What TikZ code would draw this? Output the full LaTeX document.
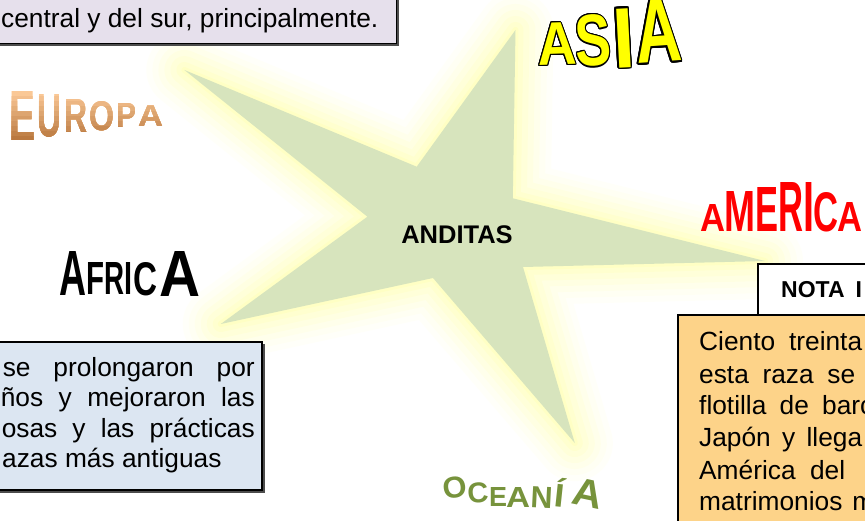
\documentclass[tikz,border=0pt]{standalone}
\usepackage{fontspec}
\setmainfont{Liberation Sans}
\usepackage[copies]{contour}
\contourlength{0.8pt}
\definecolor{starfill}{HTML}{D7E4BD}
\definecolor{glowc}{HTML}{FFFF99}
\definecolor{lav}{HTML}{E6E0EC}
\definecolor{lblue}{HTML}{DCE6F2}
\definecolor{orng}{HTML}{FDD389}
\definecolor{eurotop}{HTML}{FAC896}
\definecolor{eurobot}{HTML}{B9783F}
\definecolor{oce}{HTML}{77933C}
\definecolor{asiay}{HTML}{FFFF00}
\definecolor{amred}{HTML}{FF0000}
\tikzset{
  box/.style={draw=black, line width=1.3pt},
  shadowbox/.style={fill=black!70, draw=none},
  txt/.style={inner sep=0pt, font=\fontsize{26.3}{31}\selectfont},
  wl/.style={anchor=south west, inner sep=0pt, font=\bfseries\fontsize{40}{40}\selectfont},
}
\newcommand\WL[7][]{\node[wl,#1] (#2) at (#3,#4) {\resizebox{#5pt}{#6pt}{#7}};}
\newcommand\europaletters[1]{%
  \WL[text=#1]{eu1}{9}{141}{26}{49}{E}
  \WL[text=#1]{eu2}{37}{137}{24}{42}{U}
  \WL[text=#1]{eu3}{64}{133}{23}{33}{R}
  \WL[text=#1]{eu4}{89}{131}{25}{29}{O}
  \WL[text=#1]{eu5}{116}{128}{20}{24}{P}
  \WL[text=#1]{eu6}{138}{127}{25}{21}{A}}
\begin{document}
\begin{tikzpicture}[x=1pt,y=-1pt]
\useasboundingbox (0,0) rectangle (865,521);
\begin{scope}
\clip (0,0) rectangle (865,521);
\fill[white] (0,0) rectangle (865,521);
% star
\coordinate (s1) at (184.4,70);
\coordinate (s2) at (416.7,166.7);
\coordinate (s3) at (515.5,30);
\coordinate (s4) at (512.8,198.3);
\coordinate (s5) at (765,261);
\coordinate (s6) at (523,267);
\coordinate (s7) at (574.8,443);
\coordinate (s8) at (433,278);
\coordinate (s9) at (220.8,324);
\coordinate (s10) at (367.4,216.7);
\foreach \w/\o in {76/0.05,64/0.06,52/0.08,40/0.1,28/0.12,16/0.15,6/0.2}
  \draw[draw=glowc, line width=\w pt, line join=round, opacity=\o]
    (s1)--(s2)--(s3)--(s4)--(s5)--(s6)--(s7)--(s8)--(s9)--(s10)--cycle;
\fill[starfill] (s1)--(s2)--(s3)--(s4)--(s5)--(s6)--(s7)--(s8)--(s9)--(s10)--cycle;
\node[inner sep=0pt, font=\bfseries\fontsize{25.5}{30}\selectfont] (center) at (457,235) {ANDITAS};
% top box
\fill[shadowbox] (-20,-20) rectangle (399,46);
\draw[box, fill=lav] (-20,-20) rectangle (396.5,43.5);
\node[txt, anchor=base west] (t1) at (1,28) {central y del sur, principalmente.};
% left box
\fill[shadowbox] (-20,344.5) rectangle (264.5,492.5);
\draw[box, fill=lblue] (-20,342) rectangle (262,490);
\node[txt, anchor=base east] (l1) at (255,376) {\makebox[252pt][s]{se prolongaron por}};
\node[txt, anchor=base east] (l2) at (255,406.5) {\makebox[254pt][s]{ños y mejoraron las}};
\node[txt, anchor=base east] (l3) at (255,437) {\makebox[253pt][s]{osas y las prácticas}};
\node[txt, anchor=base west] (l4) at (2,467.5) {azas más antiguas};
% right boxes
\draw[box, fill=white] (758,264) rectangle (880,315);
\node[inner sep=0pt, anchor=base west, font=\bfseries\fontsize{23}{28}\selectfont] (h) at (781,298) {NOTA\hspace{11pt}I};
\draw[box, fill=orng] (678,315) rectangle (880,540);
\node[txt, anchor=base west] (r1) at (699,351) {\makebox[163pt][s]{Ciento treinta}};
\node[txt, anchor=base west] (r2) at (699,383) {\makebox[156pt][s]{esta raza se}};
\node[txt, anchor=base west] (r3) at (699,414.5) {\makebox[161pt][s]{flotilla de bar}c};
\node[txt, anchor=base west] (r4) at (699,446.5) {\makebox[163pt][s]{Japón y llega}};
\node[txt, anchor=base west] (r5) at (699,479) {\makebox[146pt][s]{América del}};
\node[txt, anchor=base west] (r6) at (699,510.5) {\makebox[175pt][s]{matrimonios m}};
% EUROPA (vertical gradient by bands)
\foreach \i in {0,...,9} {
  \pgfmathsetmacro\ya{92+\i*5}
  \pgfmathsetmacro\pc{100-\i*11}
  \begin{scope}
    \clip (0,\ya) rectangle (200,160);
    \colorlet{bandc}{eurotop!\pc!eurobot}
    \europaletters{bandc}
  \end{scope}
}
% ASIA
\WL[text=asiay, rotate=2]{as1}{538}{67}{39}{42}{\contour{black}{A}}
\WL[text=asiay, rotate=3]{as2}{576}{69}{36}{51}{\contour{black}{S}}
\WL[text=asiay, rotate=3]{as3}{614}{70}{22}{59}{\contour{black}{I}}
\WL[text=asiay, rotate=4]{as4}{637}{66}{46}{62}{\contour{black}{A}}
% AFRICA
\WL[text=black]{af1}{59}{296}{27}{44}{A}
\WL[text=black]{af2}{86}{295}{18}{32}{F}
\WL[text=black]{af3}{104}{295}{20}{32}{R}
\WL[text=black]{af4}{124}{295}{8}{32}{I}
\WL[text=black]{af5}{133}{296}{24}{33}{C}
\WL[text=black]{af6}{159}{297}{41}{45}{A}
% AMERICA
\WL[text=amred]{am1}{700}{232}{25}{27}{A}
\WL[text=amred]{am2}{724}{232}{31}{40}{M}
\WL[text=amred]{am3}{755}{232}{23}{44}{E}
\WL[text=amred]{am4}{778}{232}{25}{49}{R}
\WL[text=amred]{am5}{803}{232}{11}{49}{I}
\WL[text=amred]{am6}{813}{232}{25}{39}{C}
\WL[text=amred]{am7}{837}{232}{25}{29}{A}
% OCEANIA
\WL[text=oce, rotate=8]{oc1}{444}{500}{24}{21}{O}
\WL[text=oce, rotate=4]{oc2}{468}{504}{21}{20}{C}
\WL[text=oce]{oc3}{489}{507}{18}{19}{E}
\WL[text=oce]{oc4}{506}{508}{24}{20}{A}
\WL[text=oce, rotate=-3]{oc5}{530}{508}{22}{21}{N}
\WL[text=oce, rotate=-6]{oc6}{553}{507}{10}{29}{Í}
\WL[text=oce, rotate=-12]{oc7}{570}{504}{30}{27}{A}
\end{scope}
\end{tikzpicture}
\end{document}
